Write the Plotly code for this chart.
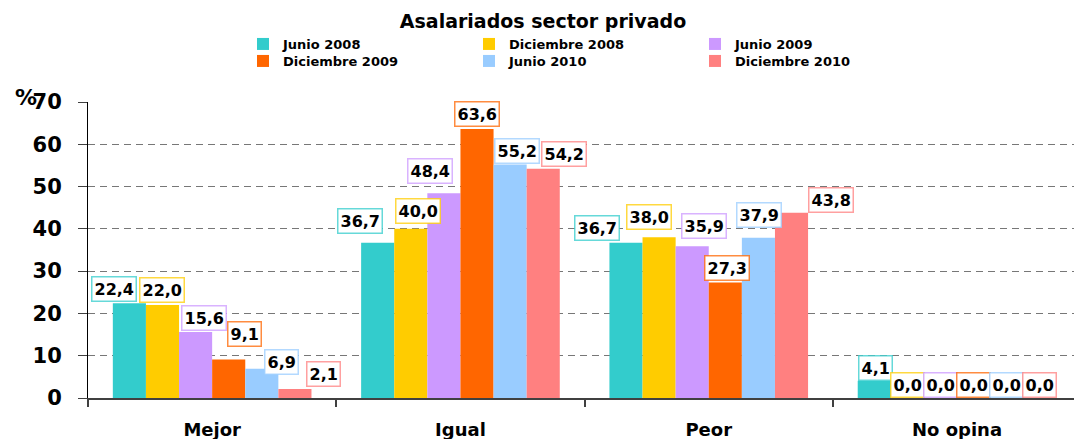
import plotly.graph_objects as go

categories = ["Mejor", "Igual", "Peor", "No opina"]
series_names = ["Junio 2008", "Diciembre 2008", "Junio 2009",
                "Diciembre 2009", "Junio 2010", "Diciembre 2010"]
junio_2008 = [22.4, 36.7, 36.7, 4.1]
diciembre_2008 = [22.0, 40.0, 38.0, 0.0]
junio_2009 = [15.6, 48.4, 35.9, 0.0]
diciembre_2009 = [9.1, 63.6, 27.3, 0.0]
junio_2010 = [6.9, 55.2, 37.9, 0.0]
diciembre_2010 = [2.1, 54.2, 43.8, 0.0]
series_values = [junio_2008, diciembre_2008, junio_2009,
                 diciembre_2009, junio_2010, diciembre_2010]
y_ticks = [0, 10, 20, 30, 40, 50, 60, 70]

colors = ["#33CCCC", "#FFCC00", "#CC99FF", "#FF6600", "#99CCFF", "#FF8080"]
border_colors = ["rgba(51,204,204,0.75)", "rgba(255,204,0,0.75)", "rgba(204,153,255,0.75)",
                 "rgba(255,102,0,0.75)", "rgba(153,204,255,0.75)", "rgba(255,128,128,0.75)"]

# label nudges in px (series x category): horizontal shift, extra lift
label_dx = [[-15, -18, -29, 1], [0, 7, -10, 0], [8, -14, 12, 0],
            [16, 0, 2, 0], [20, 7, 1, 0], [29, 21, 39, 0]]
label_dy = [[1, 9, 2, 0], [2, 5, 7, 0], [1, 9, 7, 0],
            [13, 2, 2, 0], [-6, 1, 10, 0], [2, 2, 0, 0]]

FONT = "DejaVu Sans"
fig = go.Figure()
legend_ids = ["legend", "legend", "legend", "legend2", "legend2", "legend2"]
for j, (name, vals) in enumerate(zip(series_names, series_values)):
    fig.add_trace(go.Bar(name=name, x=categories, y=vals,
                         marker=dict(color=colors[j], line=dict(width=0)),
                         legend=legend_ids[j]))

n = len(series_names)
group_w = 0.8
annotations = []
for j, vals in enumerate(series_values):
    for i, v in enumerate(vals):
        xpos = i - group_w / 2 + group_w * (j + 0.5) / n
        annotations.append(dict(
            x=xpos, y=v, xref="x", yref="y", xanchor="center", yanchor="bottom",
            xshift=label_dx[j][i], yshift=label_dy[j][i],
            text=f"{v:.1f}".replace(".", ","), showarrow=False,
            font=dict(family=FONT, size=16, color="black", weight="bold"),
            bgcolor="white", bordercolor=border_colors[j], borderwidth=1.5, borderpad=2))

annotations.append(dict(text="%", xref="paper", yref="paper", x=-0.063, y=1.015,
                        xanchor="center", yanchor="middle", showarrow=False,
                        font=dict(family=FONT, size=22, color="black", weight="bold")))

legend_common = dict(orientation="h", xref="container", yref="container",
                     xanchor="left", yanchor="top", entrywidth=181,
                     font=dict(family=FONT, size=13, color="black", weight="bold"),
                     bgcolor="rgba(0,0,0,0)", itemclick=False, tracegroupgap=0)

fig.update_layout(
    width=1074, height=439,
    margin=dict(l=88, r=0, t=102, b=41),
    paper_bgcolor="white", plot_bgcolor="white",
    barmode="group", bargap=0.2, bargroupgap=0,
    title=dict(text="Asalariados sector privado", x=543 / 1074, xanchor="center",
               y=1 - 21 / 439, yanchor="middle",
               font=dict(family=FONT, size=19, color="black", weight="bold")),
    legend=dict(x=243 / 1074, y=1 - 29 / 439, **legend_common),
    legend2=dict(x=243 / 1074, y=1 - 46 / 439, **legend_common),
    annotations=annotations,
    xaxis=dict(range=[-0.5, 3.471], showgrid=False, showline=True, linecolor="#404040",
               linewidth=2, ticks="outside", tickson="boundaries", ticklen=7,
               tickcolor="#404040", tickwidth=1.5, ticklabelstandoff=14,
               tickfont=dict(family=FONT, size=18, color="black", weight="bold")),
    yaxis=dict(range=[0, 70], tickvals=y_ticks, showgrid=True, gridcolor="#777777",
               griddash="7px,5px", gridwidth=1, zeroline=False, showline=True,
               linecolor="black", linewidth=1, ticks="outside", ticklen=9,
               tickcolor="#404040", ticklabelstandoff=12,
               tickfont=dict(family=FONT, size=21, color="black", weight="bold")),
)

fig.write_html("out.html", config={"displayModeBar": False},
               post_script="document.body.style.margin='0';document.body.style.padding='0';")
